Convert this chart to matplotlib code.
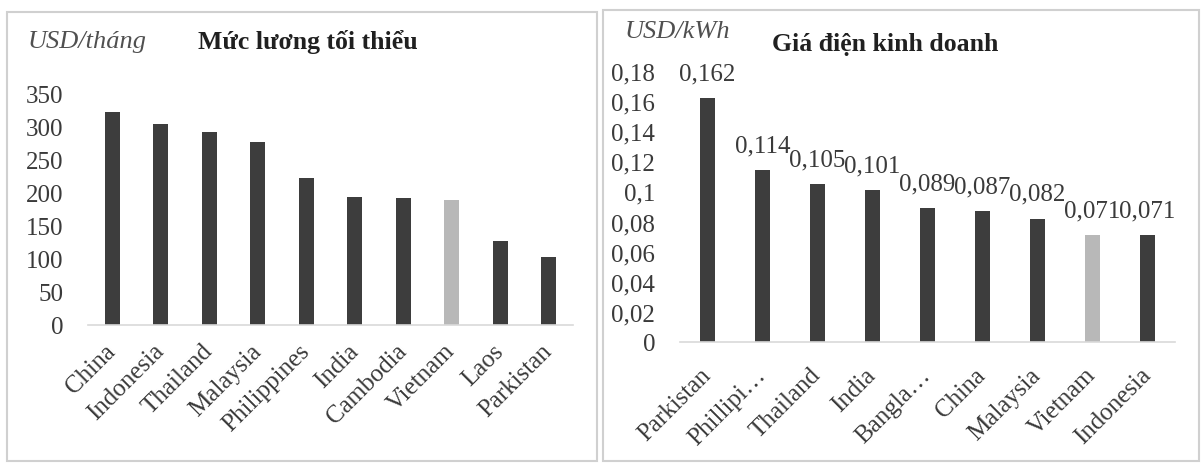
import matplotlib
matplotlib.use("Agg")
import matplotlib.pyplot as plt
from matplotlib.patches import Rectangle

plt.rcParams['font.family'] = ['Liberation Serif', 'DejaVu Serif']

# ===== Dữ liệu =====
wage_countries = ["China", "Indonesia", "Thailand", "Malaysia", "Philippines",
                  "India", "Cambodia", "Vietnam", "Laos", "Parkistan"]
wage_values = [322, 305, 292, 278, 223, 194, 192, 190, 128, 103]

power_countries = ["Parkistan", "Phillipi…", "Thailand", "India", "Bangla…",
                   "China", "Malaysia", "Vietnam", "Indonesia"]
power_values = [0.162, 0.114, 0.105, 0.101, 0.089, 0.087, 0.082, 0.071, 0.071]

wage_ticks = [0, 50, 100, 150, 200, 250, 300, 350]
power_ticks = [0, 0.02, 0.04, 0.06, 0.08, 0.1, 0.12, 0.14, 0.16, 0.18]

DARK = "#3d3d3d"
LIGHT = "#b8b8b8"
TXT = "#3a3a3a"
FS = 18
W, H = 1202, 464


def px(x0, y0, x1, y1):
    # pixel box -> figure fraction [left, bottom, width, height]
    return [x0 / W, 1 - y1 / H, (x1 - x0) / W, (y1 - y0) / H]


def style_axes(ax, names, ticks, fmt, xpad):
    for s in ["top", "right", "left"]:
        ax.spines[s].set_visible(False)
    ax.spines["bottom"].set_color("#d9d9d9")
    ax.spines["bottom"].set_linewidth(1.2)
    ax.set_xticks(range(len(names)))
    ax.set_xticklabels(names, rotation=45, ha="right", va="center",
                       rotation_mode="anchor", fontsize=FS, color=TXT)
    ax.set_yticks(ticks)
    ax.set_yticklabels([fmt(t) for t in ticks], fontsize=FS, color=TXT)
    ax.tick_params(axis="y", length=0, pad=18)
    ax.tick_params(axis="x", length=0, pad=xpad)
    ax.set_xlim(-0.5, len(names) - 0.5)


fig = plt.figure(figsize=(12.02, 4.64), dpi=100)

# khung hai biểu đồ
for box in [(7, 13, 597, 462), (603, 11, 1199, 462)]:
    fig.add_artist(Rectangle((box[0] / W, 1 - box[3] / H),
                             (box[2] - box[0]) / W, (box[3] - box[1]) / H,
                             transform=fig.transFigure, fill=False,
                             edgecolor="#d0d0d0", linewidth=1.5))

# ===== Mức lương tối thiểu =====
ax1 = fig.add_axes(px(88, 95, 573, 326))
c1 = [LIGHT if c == "Vietnam" else DARK for c in wage_countries]
ax1.bar(range(len(wage_countries)), wage_values, width=0.31, color=c1)
ax1.set_ylim(0, 350)
style_axes(ax1, wage_countries, wage_ticks, lambda t: f"{t:g}", 16)
fig.text(28 / W, 1 - 42 / H, "USD/tháng", fontsize=19, style="italic",
         color="#505050", va="center", ha="left")
fig.text(198 / W, 1 - 42 / H, "Mức lương tối thiểu", fontsize=18.5,
         weight="bold", color="#202020", va="center", ha="left")

# ===== Giá điện kinh doanh =====
ax2 = fig.add_axes(px(680, 72, 1175, 343))
c2 = [LIGHT if c == "Vietnam" else DARK for c in power_countries]
bars = ax2.bar(range(len(power_countries)), power_values, width=0.29, color=c2)
ax2.set_ylim(0, 0.18)
style_axes(ax2, power_countries, power_ticks,
           lambda t: f"{t:g}".replace(".", ","), 21)
for b, v in zip(bars, power_values):
    ax2.annotate(f"{v:g}".replace(".", ","),
                 (b.get_x() + b.get_width() / 2, v),
                 xytext=(0, 10), textcoords="offset points",
                 ha="center", va="bottom", fontsize=FS, color=TXT)
fig.text(625 / W, 1 - 32 / H, "USD/kWh", fontsize=19, style="italic",
         color="#505050", va="center", ha="left")
fig.text(772 / W, 1 - 45 / H, "Giá điện kinh doanh", fontsize=18.5,
         weight="bold", color="#202020", va="center", ha="left")

fig.savefig("out.png", dpi=100)
